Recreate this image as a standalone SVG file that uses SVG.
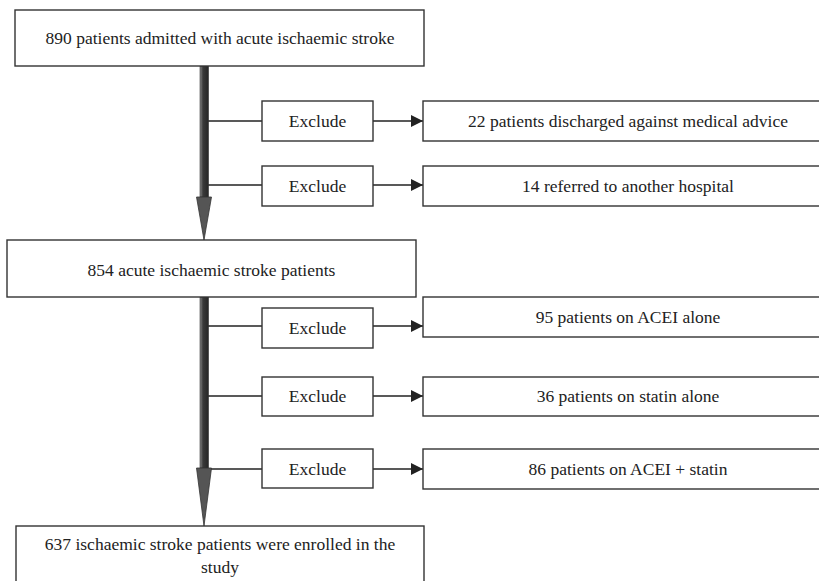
<svg xmlns="http://www.w3.org/2000/svg" width="819" height="581" viewBox="0 0 819 581">
<style>
.box{fill:#fff;stroke:#333;stroke-width:1.4}
.t{font-family:'Liberation Serif','Times New Roman',Times,'DejaVu Serif',serif;font-size:17.5px;fill:#222;text-anchor:middle}
.ln{stroke:#222;stroke-width:1.4;fill:none}
.head{fill:#555;stroke:#333;stroke-width:0.8}
</style>
<defs>
<linearGradient id="shaft" x1="0" y1="0" x2="1" y2="0">
<stop offset="0" stop-color="#8a8a8a"/>
<stop offset="0.35" stop-color="#3a3a3a"/>
<stop offset="1" stop-color="#262626"/>
</linearGradient>
<marker id="ah" viewBox="0 0 12 12" refX="12" refY="6" markerWidth="12" markerHeight="12" markerUnits="userSpaceOnUse" orient="auto">
<path d="M0,0 L12,6 L0,12 Z" fill="#222"/>
</marker>
</defs>
<rect width="819" height="581" fill="#fff"/>
<g id="connectors">
<line class="ln" x1="206" y1="121" x2="262" y2="121"/>
<line class="ln" x1="206" y1="185" x2="262" y2="185"/>
<line class="ln" x1="373" y1="121" x2="423" y2="121" marker-end="url(#ah)"/>
<line class="ln" x1="373" y1="185" x2="423" y2="185" marker-end="url(#ah)"/>
<line class="ln" x1="206" y1="326" x2="262" y2="326"/>
<line class="ln" x1="206" y1="396" x2="262" y2="396"/>
<line class="ln" x1="206" y1="469" x2="262" y2="469"/>
<line class="ln" x1="373" y1="326" x2="423" y2="326" marker-end="url(#ah)"/>
<line class="ln" x1="373" y1="396" x2="423" y2="396" marker-end="url(#ah)"/>
<line class="ln" x1="373" y1="469" x2="423" y2="469" marker-end="url(#ah)"/>
<g id="bigarrow1">
<rect x="200" y="66" width="8.5" height="131" fill="url(#shaft)" stroke="#333" stroke-width="0.6"/>
<path class="head" d="M196.5,197 L211.5,197 L204,240 Z"/>
</g>
<g id="bigarrow2">
<rect x="200" y="297" width="8.5" height="171" fill="url(#shaft)" stroke="#333" stroke-width="0.6"/>
<path class="head" d="M196.5,468 L211.5,468 L204,526 Z"/>
</g>
</g>
<g id="n1"><rect class="box" x="15" y="10" width="409" height="56"/><text class="t" x="220" y="44">890 patients admitted with acute ischaemic stroke</text></g>
<g id="ex1"><rect class="box" x="262" y="101" width="111" height="40"/><text class="t" x="317.5" y="127">Exclude</text></g>
<g id="ex2"><rect class="box" x="262" y="166" width="111" height="40"/><text class="t" x="317.5" y="192">Exclude</text></g>
<g id="r1"><rect class="box" x="423" y="101" width="420" height="40"/><text class="t" x="628" y="127">22 patients discharged against medical advice</text></g>
<g id="r2"><rect class="box" x="423" y="166" width="420" height="40"/><text class="t" x="628" y="192">14 referred to another hospital</text></g>
<g id="n2"><rect class="box" x="7" y="240" width="409" height="57"/><text class="t" x="211.5" y="276">854 acute ischaemic stroke patients</text></g>
<g id="ex3"><rect class="box" x="262" y="308" width="111" height="40"/><text class="t" x="317.5" y="334">Exclude</text></g>
<g id="ex4"><rect class="box" x="262" y="377" width="111" height="39"/><text class="t" x="317.5" y="402">Exclude</text></g>
<g id="ex5"><rect class="box" x="262" y="449" width="111" height="39"/><text class="t" x="317.5" y="475">Exclude</text></g>
<g id="r3"><rect class="box" x="423" y="297" width="420" height="40"/><text class="t" x="628" y="323">95 patients on ACEI alone</text></g>
<g id="r4"><rect class="box" x="423" y="377" width="420" height="39"/><text class="t" x="628" y="402">36 patients on statin alone</text></g>
<g id="r5"><rect class="box" x="423" y="449" width="420" height="40"/><text class="t" x="628" y="475">86 patients on ACEI + statin</text></g>
<g id="n3"><rect class="box" x="16" y="526" width="408" height="70"/><text class="t" x="220" y="550">637 ischaemic stroke patients were enrolled in the</text><text class="t" x="220" y="573">study</text></g>
</svg>
